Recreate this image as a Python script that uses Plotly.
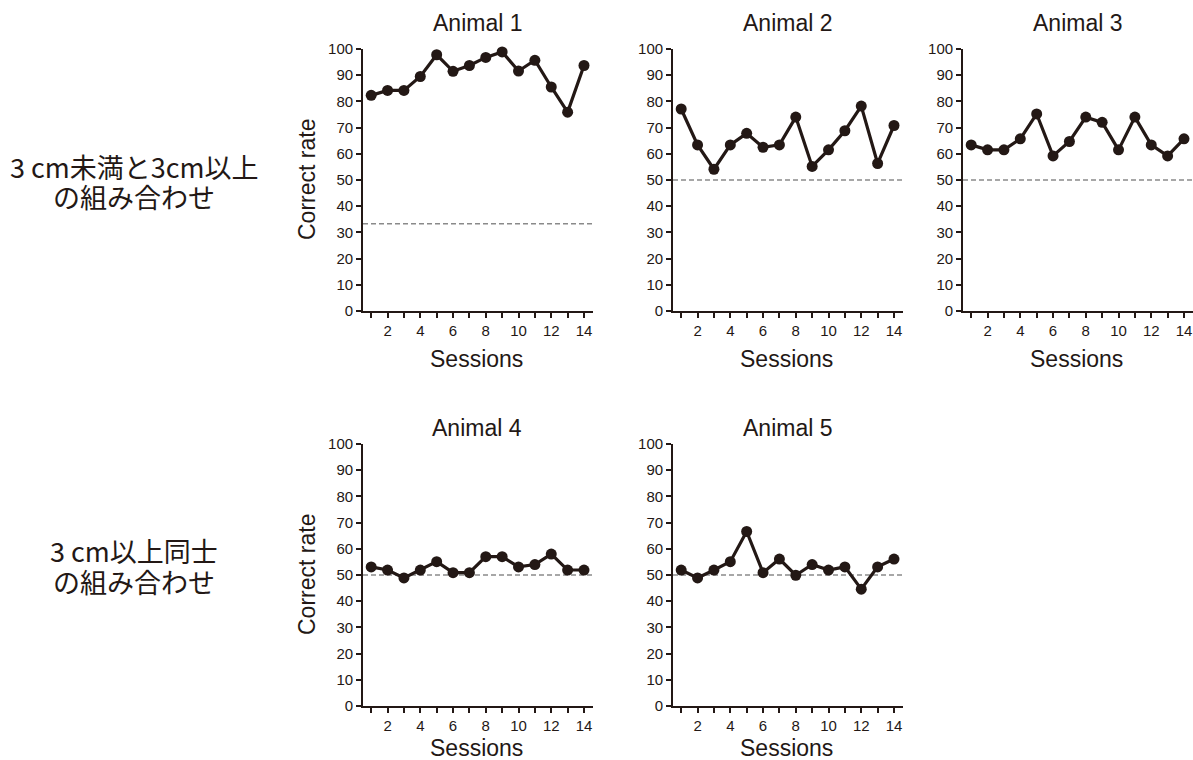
import plotly.graph_objects as go

W, H = 1193, 760

sessions = list(range(1, 15))
animal_names = ["Animal 1", "Animal 2", "Animal 3", "Animal 4", "Animal 5"]
animal1 = [82.3, 84.2, 84.2, 89.5, 97.8, 91.5, 93.7, 96.8, 98.9, 91.6, 95.7, 85.5, 75.9, 93.7]
animal2 = [77.1, 63.4, 54.1, 63.4, 67.8, 62.5, 63.4, 74.0, 55.2, 61.5, 68.8, 78.2, 56.3, 70.8]
animal3 = [63.4, 61.5, 61.5, 65.7, 75.2, 59.2, 64.7, 74.0, 72.0, 61.5, 74.0, 63.4, 59.2, 65.7]
animal4 = [53.1, 51.9, 48.9, 51.9, 55.1, 50.9, 50.9, 57.0, 57.0, 53.1, 54.0, 58.0, 51.9, 51.9]
animal5 = [51.9, 48.9, 51.9, 55.1, 66.6, 50.9, 56.1, 49.9, 54.0, 51.9, 53.1, 44.6, 53.1, 56.1]
chance_levels = [33.3, 50, 50, 50, 50]
y_ticks = list(range(0, 101, 10))
x_tick_text = [str(s) if s % 2 == 0 else "" for s in sessions]
row_labels = [["3 cm未満と3cm以上", "の組み合わせ"], ["3 cm以上同士", "の組み合わせ"]]

series = [animal1, animal2, animal3, animal4, animal5]

INK = "#231815"
FONT = "Liberation Sans, Arial, sans-serif"
JFONT = "Noto Sans CJK JP, sans-serif"

# pixel layout of plot areas: (left, right), (top, bottom)
cols_px = [(363, 593), (673, 903), (963, 1193)]
rows_px = [(49, 311), (444, 706)]
title_px = [23, 428]
sessions_px = [359, 748]
panels = [(0, 0), (0, 1), (0, 2), (1, 0), (1, 1)]

fig = go.Figure()
layout_axes = {}
annotations = []

for i, (r, c) in enumerate(panels):
    n = i + 1
    xa = "x" if n == 1 else f"x{n}"
    ya = "y" if n == 1 else f"y{n}"
    xl, xr = cols_px[c]
    yt, yb = rows_px[r]
    # chance line
    fig.add_trace(go.Scatter(
        x=[0.5, 14.55], y=[chance_levels[i]] * 2, xaxis=xa, yaxis=ya, mode="lines",
        line=dict(color="#8a8a8a", width=1.3, dash="5px,3px"),
        showlegend=False, hoverinfo="skip",
    ))
    fig.add_trace(go.Scatter(
        x=sessions, y=series[i], xaxis=xa, yaxis=ya, mode="lines+markers",
        line=dict(color=INK, width=3.2),
        marker=dict(color=INK, size=11),
        showlegend=False, cliponaxis=False,
    ))
    kx = "xaxis" if n == 1 else f"xaxis{n}"
    ky = "yaxis" if n == 1 else f"yaxis{n}"
    layout_axes[kx] = dict(
        domain=[xl / W, xr / W], anchor=ya, range=[0.5, 14.55],
        tickmode="array", tickvals=sessions, ticktext=x_tick_text,
        ticks="outside", ticklen=5, tickwidth=1.5, tickcolor=INK,
        showline=True, linecolor=INK, linewidth=1.8,
        showgrid=False, zeroline=False,
        tickfont=dict(family=FONT, size=15, color=INK),
    )
    layout_axes[ky] = dict(
        domain=[1 - yb / H, 1 - yt / H], anchor=xa, range=[0, 100],
        tickmode="array", tickvals=y_ticks,
        ticks="outside", ticklen=5, tickwidth=1.5, tickcolor=INK,
        showline=True, linecolor=INK, linewidth=1.8,
        showgrid=False, zeroline=False,
        tickfont=dict(family=FONT, size=15, color=INK),
    )
    cx = (xl + xr) / 2
    annotations.append(dict(
        text=animal_names[i], x=(cx - 1) / W, y=1 - title_px[r] / H,
        xref="paper", yref="paper", xanchor="center", yanchor="middle",
        showarrow=False, font=dict(family=FONT, size=23, color=INK),
    ))
    annotations.append(dict(
        text="Sessions", x=(cx - 2) / W, y=1 - sessions_px[r] / H,
        xref="paper", yref="paper", xanchor="center", yanchor="middle",
        showarrow=False, font=dict(family=FONT, size=23, color=INK),
    ))
    if c == 0:
        annotations.append(dict(
            text="Correct rate", x=307 / W, y=1 - ((yt + yb) / 2) / H,
            xref="paper", yref="paper", xanchor="center", yanchor="middle",
            textangle=-90,
            showarrow=False, font=dict(family=FONT, size=23, color=INK),
        ))

row_label_y = [(167, 197), (550, 581)]
for k, lines in enumerate(row_labels):
    for j, txt in enumerate(lines):
        annotations.append(dict(
            text=txt, x=134 / W, y=1 - row_label_y[k][j] / H,
            xref="paper", yref="paper", xanchor="center", yanchor="middle",
            showarrow=False,
            font=dict(family=JFONT, size=27, color=INK),
        ))

fig.update_layout(
    width=W, height=H,
    margin=dict(l=0, r=0, t=0, b=0, autoexpand=False),
    paper_bgcolor="white", plot_bgcolor="white",
    annotations=annotations,
    **layout_axes,
)

fig.write_html(
    "out.html",
    config={"displayModeBar": False},
    post_script=(
        "document.documentElement.style.margin='0px';"
        "document.body.style.margin='0px';document.body.style.overflow='hidden';"
        "var gd=document.getElementById('{plot_id}');"
        "gd.style.position='absolute';gd.style.top='0px';gd.style.left='0px';"
    ),
)
